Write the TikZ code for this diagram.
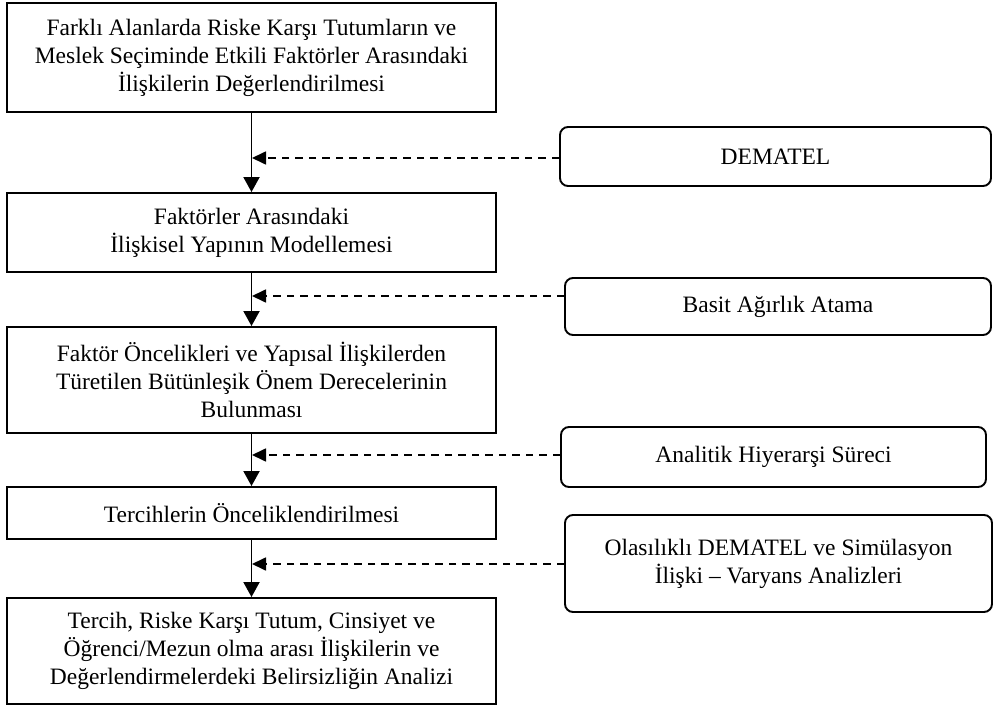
\documentclass[tikz,border=0pt]{standalone}
\usepackage{fontspec}
\setmainfont{Liberation Serif}
\usetikzlibrary{arrows.meta}
\begin{document}
\begin{tikzpicture}[x=1pt,y=-1pt,
  txt/.style={font={\fontsize{23.5}{28}\selectfont}},
  mainbox/.style={draw, line width=1.9pt, minimum width=489pt, align=center, inner sep=0pt, txt},
  sidebox/.style={draw, line width=1.9pt, rounded corners=8pt, align=center, inner sep=0pt, txt},
  flow/.style={line width=1.9pt, -{Triangle[length=15pt,width=16pt]}},
  feed/.style={line width=1.7pt, dash pattern=on 7.5pt off 6pt, -{Triangle[length=14pt,width=13pt]}, shorten >=0.5pt}
]
\useasboundingbox (0,0) rectangle (994,706);
\node[mainbox, minimum height=109pt] (b1) at (251.5,57.5) {Farklı Alanlarda Riske Karşı Tutumların ve\\Meslek Seçiminde Etkili Faktörler Arasındaki\\İlişkilerin Değerlendirilmesi};
\node[mainbox, minimum height=79pt] (b2) at (251.5,232.5) {Faktörler Arasındaki\\İlişkisel Yapının Modellemesi};
\node[mainbox, minimum height=106pt] (b3) at (251.5,380) {Faktör Öncelikleri ve Yapısal İlişkilerden\\Türetilen Bütünleşik Önem Derecelerinin\\Bulunması};
\node[mainbox, minimum height=52pt] (b4) at (251.5,513) {Tercihlerin Önceliklendirilmesi};
\node[mainbox, minimum height=106pt] (b5) at (251.5,651) {Tercih, Riske Karşı Tutum, Cinsiyet ve\\Öğrenci/Mezun olma arası İlişkilerin ve\\Değerlendirmelerdeki Belirsizliğin Analizi};

\node[sidebox, minimum width=431pt, minimum height=59pt] (r1) at (775.5,156.5) {DEMATEL};
\node[sidebox, minimum width=426pt, minimum height=57pt] (r2) at (778,306.5) {Basit Ağırlık Atama};
\node[sidebox, minimum width=425pt, minimum height=60pt] (r3) at (773.5,457) {Analitik Hiyerarşi Süreci};
\node[sidebox, minimum width=427pt, minimum height=97pt] (r4) at (778.5,563.5) {Olasılıklı DEMATEL ve Simülasyon\\İlişki -- Varyans Analizleri};

\draw[flow] (b1.south) -- (b2.north);
\draw[flow] (b2.south) -- (b3.north);
\draw[flow] (b3.south) -- (b4.north);
\draw[flow] (b4.south) -- (b5.north);

\coordinate (s1) at ([yshift=-1.5pt]r1.west);
\coordinate (s2) at ([yshift=10.5pt]r2.west);
\coordinate (s3) at ([yshift=2pt]r3.west);
\coordinate (s4) at ([yshift=-0.5pt]r4.west);
\draw[feed] (s1) -- (s1 -| b1.south);
\draw[feed] (s2) -- (s2 -| b1.south);
\draw[feed] (s3) -- (s3 -| b1.south);
\draw[feed] (s4) -- (s4 -| b1.south);
\end{tikzpicture}
\end{document}
